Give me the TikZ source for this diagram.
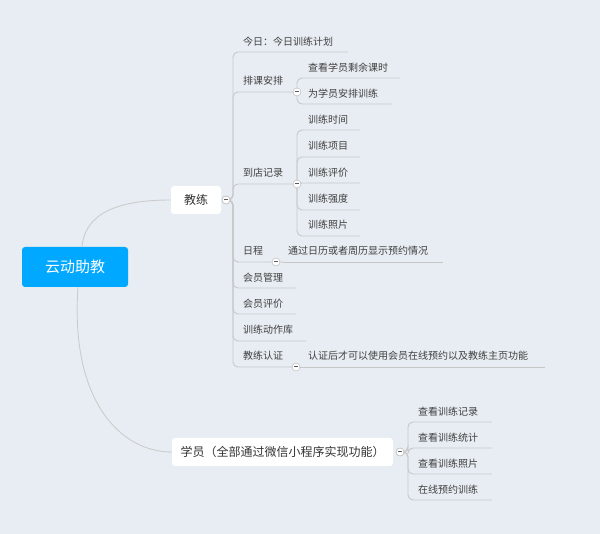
\documentclass[tikz,border=0pt]{standalone}
\usepackage{fontspec}
\setmainfont{Noto Sans CJK SC}
\begin{document}
\begin{tikzpicture}[x=1pt,y=-1pt,
  lbl/.style={anchor=west,inner sep=0pt,font=\fontsize{10}{10}\selectfont,text=black!75},
  ln/.style={draw=black!22,line width=0.9pt,rounded corners=5pt},
  cur/.style={draw=black!20,line width=0.9pt},
  tog/.style={circle,draw=black!30,fill=white,minimum size=8pt,inner sep=0pt},
  box/.style={rounded corners=3pt,inner sep=0pt,font=\fontsize{12}{12}\selectfont,text=black!80}]
\newcommand\tgl{\textcolor{black!65}{\rule[0.4ex]{3.5pt}{0.8pt}}}
\fill[fill={rgb,255:red,232;green,237;blue,243}] (0,0) rectangle (600,534);
\useasboundingbox (0,0) rectangle (600,534);
% root and main nodes
\node[box,fill={rgb,255:red,0;green,168;blue,255},text=white,minimum width=106,minimum height=40,font=\fontsize{15}{16}\selectfont] (root) at (75,267) {云动助教};
\node[box,fill=white,minimum width=50,minimum height=28] (t) at (196,200) {教练};
\node[box,fill=white,minimum width=221,minimum height=28] (s) at (282.5,452) {学员（全部通过微信小程序实现功能）};
\draw[cur] (82,247) .. controls (85,212) and (120,200) .. (t.west);
\draw[cur] (78,287) .. controls (70,400) and (120,452) .. (s.west);
% toggles
\node[tog] (tt) at (226,200) {\tgl};
\node[tog] (ts) at (400,452) {\tgl};
% teacher children
\node[lbl] (a1) at (243,42) {今日：今日训练计划}; \coordinate (e1) at (348,52);
\node[lbl] (a2) at (243,81) {排课安排}; \coordinate (e2) at (297,92);
\node[lbl] (a3) at (243,173) {到店记录}; \coordinate (e3) at (297,184);
\node[lbl] (a4) at (243,251) {日程}; \coordinate (e4) at (283,262);
\node[lbl] (a5) at (243,278) {会员管理}; \coordinate (e5) at (296,288);
\node[lbl] (a6) at (243,304) {会员评价}; \coordinate (e6) at (296,314);
\node[lbl] (a7) at (243,330) {训练动作库}; \coordinate (e7) at (306,341);
\node[lbl] (a8) at (243,356) {教练认证}; \coordinate (e8) at (297,367);
\foreach \e in {e1,e2,e3,e4,e5,e6,e7,e8}{\path[ln] (tt.east) -- (233,200) |- (\e);}
% 排课安排 children
\node[lbl] (b1) at (308,68) {查看学员剩余课时}; \coordinate (f1) at (400,78);
\node[lbl] (b2) at (308,94) {为学员安排训练}; \coordinate (f2) at (392,104);
\foreach \e in {f1,f2}{\path[ln] (297,92) |- (\e);}
% 到店记录 children
\node[lbl] (c1) at (308,120) {训练时间}; \coordinate (g1) at (360,130);
\node[lbl] (c2) at (308,146) {训练项目}; \coordinate (g2) at (360,157);
\node[lbl] (c3) at (308,173) {训练评价}; \coordinate (g3) at (360,183);
\node[lbl] (c4) at (308,199) {训练强度}; \coordinate (g4) at (360,210);
\node[lbl] (c5) at (308,225) {训练照片}; \coordinate (g5) at (360,236);
\foreach \e in {g1,g2,g3,g4,g5}{\path[ln] (297,184) |- (\e);}
% 日程 child
\node[lbl] (d1) at (288,251) {通过日历或者周历显示预约情况}; \coordinate (h1) at (443,262);
\path[ln] (e4) -- (h1);
% 教练认证 child
\node[lbl] (d2) at (308,356) {认证后才可以使用会员在线预约以及教练主页功能}; \coordinate (h2) at (545,367);
\path[ln] (e8) -- (h2);
% student children
\node[lbl] (s1) at (418,412) {查看训练记录}; \coordinate (k1) at (492,422);
\node[lbl] (s2) at (418,438) {查看训练统计}; \coordinate (k2) at (492,448);
\node[lbl] (s3) at (418,464) {查看训练照片}; \coordinate (k3) at (492,474);
\node[lbl] (s4) at (418,490) {在线预约训练}; \coordinate (k4) at (492,500);
\foreach \e in {k1,k2,k3,k4}{\path[ln] (ts.east) -- (408,452) |- (\e);}
% toggles on top
\node[tog] at (297,92) {\tgl};
\node[tog] at (297,184) {\tgl};
\node[tog] at (276,262) {\tgl};
\node[tog] at (296,367) {\tgl};
\node[tog] at (226,200) {\tgl};
\node[tog] at (400,452) {\tgl};
\end{tikzpicture}
\end{document}
